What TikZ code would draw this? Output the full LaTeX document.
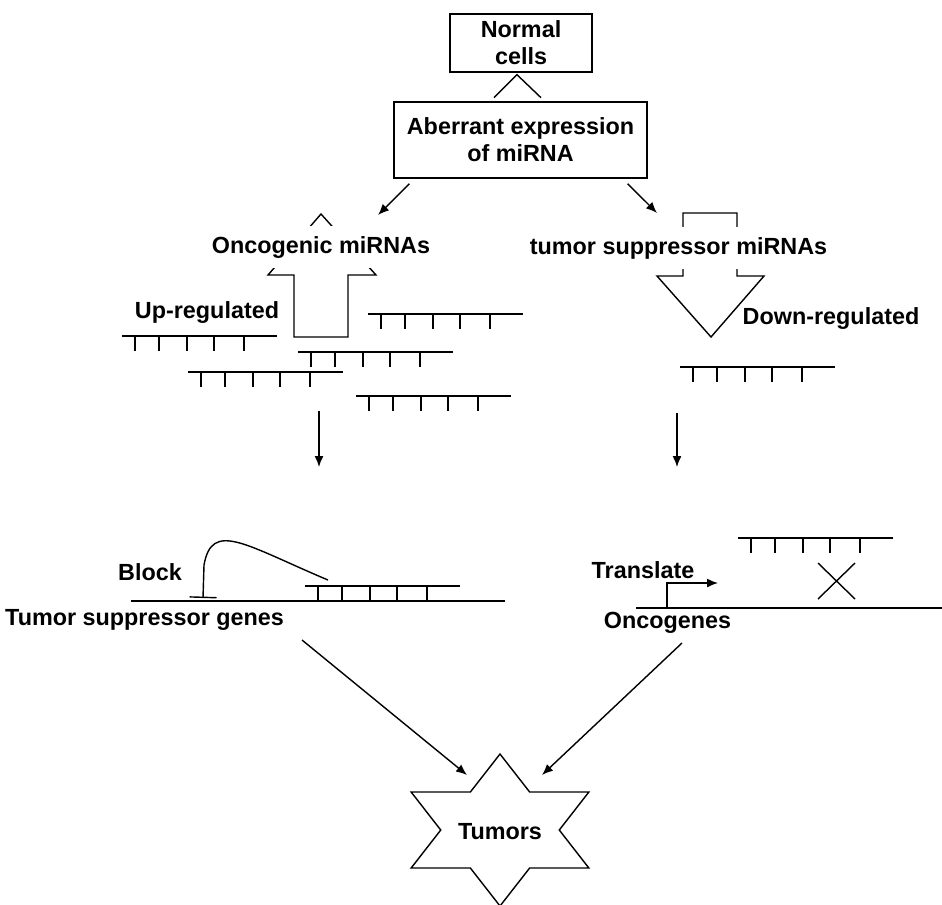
\documentclass[tikz,border=0pt]{standalone}
\usepackage{fontspec}
\setmainfont{Liberation Sans}
\usetikzlibrary{positioning,calc,arrows.meta}

\begin{document}
\begin{tikzpicture}[x=0.02cm, y=-0.02cm, line width=0.8pt,
    lbl/.style={font=\fontsize{13.3}{15.5}\selectfont\bfseries, inner sep=2pt},
    box/.style={draw, lbl, align=center},
    arr/.style={->, >={Latex[length=0.22cm,width=0.18cm]}},
    pics/mirna/.style={code={
        \draw (0,0) -- (155,0);
        \foreach \t in {13,37,65,92,122} \draw (\t,0) -- (\t,15);
      }}]
  \useasboundingbox (0,0) rectangle (942,904);

  % top of the flow
  \node[box, minimum width=2.84cm, minimum height=1.16cm] (normal) at (521,43) {Normal\\cells};
  \node[box, minimum width=5.06cm, minimum height=1.52cm] (aberrant) at (520.5,140) {Aberrant expression\\of miRNA};
  \draw ($(normal.south)+(-27,25)$) -- ($(normal.south)+(-4,2)$) -- ($(normal.south)+(20,25)$);

  \coordinate (oncTip) at (378,215);
  \coordinate (supTip) at (657,213);
  \draw[arr] ($(aberrant.south west)+(16,5)$) -- (oncTip);
  \draw[arr] ($(aberrant.south east)+(-20,5)$) -- (supTip);

  % hollow up / down arrows, labels on top
  \draw (294,337) -- (294,275) -- (268,275) -- (321,214) -- (376,275) -- (348,275) -- (348,337) -- cycle;
  \draw (683,213) -- (737,213) -- (737,276) -- (764,276) -- (711,337) -- (657,276) -- (683,276) -- cycle;
  \node[lbl, fill=white, inner ysep=6pt] (onc) at (321,247) {Oncogenic miRNAs};
  \node[lbl, fill=white, inner ysep=6pt] (sup) at (678.5,248) {tumor suppressor miRNAs};
  \node[lbl] (up) at (207,312) {Up-regulated};
  \node[lbl] (down) at (831,318) {Down-regulated};

  % miRNA strands
  \foreach \x/\y [count=\i] in {122/336, 368/314, 298/352, 188/372, 356/396, 680/367}
    \pic (m\i) at (\x,\y) {mirna};

  \coordinate (l1) at (319,411);
  \coordinate (l2) at (319,467);
  \coordinate (r1) at (677,413);
  \coordinate (r2) at (677,467);
  \draw[arr] (l1) -- (l2);
  \draw[arr] (r1) -- (r2);

  % tumor suppressor genes blocked
  \coordinate (tsgL) at (131,601);
  \coordinate (tsgR) at (505,601);
  \draw (tsgL) -- (tsgR);
  \pic (bound) at (305,586) {mirna};
  \draw[-{Bar[width=0.54cm]}] (328,580) .. controls (245,545) and (212,520) .. (204,565) -- (203,598);
  \node[lbl] (block) at (150,572) {Block};
  \node[lbl, anchor=west] (tsg) at (1,620) {Tumor suppressor genes};

  % oncogenes translated
  \coordinate (oncL) at (636,608);
  \coordinate (oncR) at (942,608);
  \coordinate (prom) at (667,608);
  \coordinate (promTip) at (718,583);
  \draw (oncL) -- (oncR);
  \draw[arr] (prom) |- (promTip);
  \pic (free) at (738,538) {mirna};
  \draw (818,563) -- (855,599) (855,563) -- (818,599);
  \node[lbl] (transl) at (643,570) {Translate};
  \node[lbl] (onco) at (667.5,623) {Oncogenes};

  % tumors
  \def \starR {76}
  \def \starr {43.9}
  \draw (500,754) \foreach \k in {1,...,11}
    { -- ({500+1.35*(isodd(\k) ? \starr : \starR)*cos(90+30*\k)}, {830-(isodd(\k) ? \starr : \starR)*sin(90+30*\k)}) } -- cycle;
  \node[lbl] (tumors) at (500,832) {Tumors};

  \coordinate (tsgOut) at (302,640);
  \coordinate (oncOut) at (682,643);
  \coordinate (tumL) at (467,775);
  \coordinate (tumR) at (542,775);
  \draw[arr] (tsgOut) -- (tumL);
  \draw[arr] (oncOut) -- (tumR);
\end{tikzpicture}
\end{document}
